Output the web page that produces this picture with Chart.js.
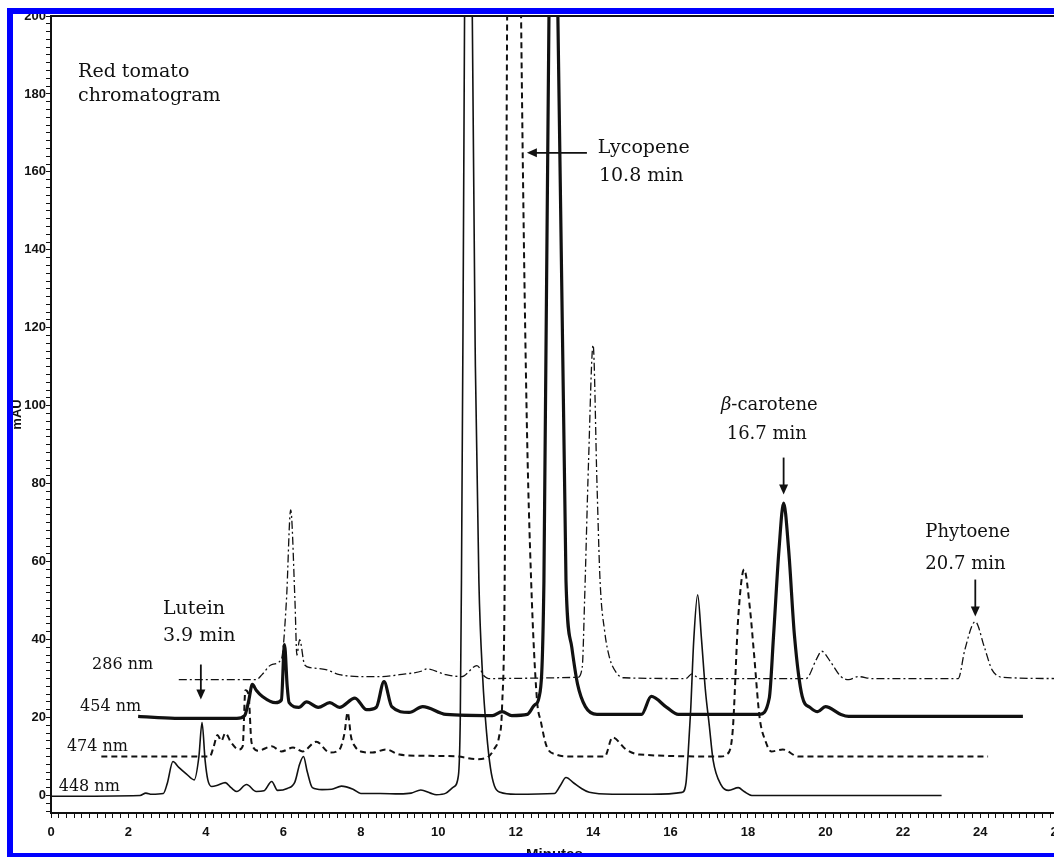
<!DOCTYPE html>
<html>
<head>
<meta charset="utf-8">
<script src="https://cdn.jsdelivr.net/npm/chart.js@4.4.1/dist/chart.umd.min.js"></script>
<style>
  html, body { margin: 0; padding: 0; background: #fff; overflow: hidden; width: 1054px; height: 857px; }
  #chart { position: absolute; left: 0; top: 0; }
  #frame { position: absolute; left: 7px; top: 8px; width: 1100px; height: 839px; border: 6px solid #0000ff; pointer-events: none; }
</style>
</head>
<body>
<canvas id="chart" width="1072" height="872"></canvas>
<div id="frame"></div>
<script>
// retention times (min) and absorbance (mAU)
const t448 = [0, 2.3, 2.45, 2.6, 2.9, 3.0, 3.15, 3.3, 3.5, 3.7, 3.82, 3.9, 3.98, 4.05, 4.15, 4.3, 4.5, 4.65, 4.8, 5.05, 5.3, 5.5, 5.7, 5.85, 6.1, 6.3, 6.42, 6.52, 6.62, 6.75, 7.0, 7.25, 7.5, 7.8, 8.0, 8.5, 9.0, 9.3, 9.55, 9.8, 9.95, 10.2, 10.4, 10.52, 10.57, 10.6, 10.64, 10.68, 10.78, 10.88, 10.96, 11.05, 11.15, 11.25, 11.35, 11.45, 11.6, 12.0, 13.0, 13.15, 13.3, 13.5, 13.7, 13.9, 14.5, 15.5, 16.3, 16.4, 16.45, 16.52, 16.6, 16.7, 16.8, 16.9, 17.0, 17.1, 17.3, 17.5, 17.75, 17.9, 18.1, 23.0];
const v448 = [-0.2, 0, 0.6, 0.3, 0.5, 3, 8.7, 7.2, 5.5, 4, 10, 18.7, 9, 4, 2.3, 2.6, 3.3, 2, 1, 2.8, 1, 1.2, 3.6, 1.3, 1.8, 3.5, 8, 10, 6, 2, 1.5, 1.6, 2.4, 1.6, 0.5, 0.5, 0.4, 0.6, 1.4, 0.6, 0.2, 0.6, 2.2, 5, 20, 55, 120, 200, 430, 200, 110, 55, 30, 16, 7, 2.5, 0.8, 0.3, 0.5, 2.5, 4.6, 3.2, 1.8, 0.8, 0.3, 0.3, 0.8, 3.3, 10, 22, 40, 51.5, 40, 27, 18, 9, 2.8, 1.3, 2, 1, 0, 0];

const t474 = [1.3, 4.1, 4.2, 4.3, 4.4, 4.5, 4.65, 4.85, 4.95, 5.02, 5.1, 5.18, 5.35, 5.7, 5.95, 6.25, 6.5, 6.85, 7.2, 7.45, 7.58, 7.66, 7.75, 7.85, 8.0, 8.3, 8.65, 9.0, 9.5, 10.5, 11.0, 11.3, 11.45, 11.57, 11.65, 11.72, 11.78, 11.96, 12.14, 12.28, 12.4, 12.55, 12.65, 12.8, 13.05, 13.4, 14.3, 14.5, 14.85, 15.2, 17.3, 17.45, 17.6, 17.75, 17.9, 18.05, 18.15, 18.3, 18.45, 18.6, 18.9, 19.3, 24.2];
const v474 = [10, 10, 12.5, 15.5, 14, 16, 13.6, 11.8, 12.6, 27, 26, 13.5, 11.5, 12.6, 11.3, 12.3, 11.3, 13.8, 11, 11.8, 16, 21.3, 15, 12.6, 11.3, 11, 11.8, 10.5, 10.2, 10, 9.3, 10, 12, 15, 23, 60, 200, 400, 200, 100, 55, 24.6, 19, 12.6, 10.5, 10, 10, 14.9, 11.8, 10.5, 10, 10.5, 16, 46, 58, 48, 37, 20, 14, 11.3, 11.8, 10, 10];

const t454 = [2.25, 3.2, 4.8, 5.0, 5.1, 5.2, 5.3, 5.46, 5.8, 5.95, 6.03, 6.1, 6.15, 6.4, 6.6, 6.9, 7.2, 7.45, 7.85, 8.15, 8.4, 8.6, 8.8, 9.25, 9.6, 10.2, 11.4, 11.65, 11.9, 12.3, 12.5, 12.6, 12.73, 12.86, 12.97, 13.09, 13.3, 13.45, 13.6, 13.8, 14.1, 15.25, 15.5, 15.9, 16.2, 18.3, 18.55, 18.66, 18.8, 18.92, 19.05, 19.2, 19.4, 19.6, 19.8, 20.0, 20.4, 20.6, 25.1];
const v454 = [20.3, 19.8, 19.8, 20.5, 24, 28.5, 27, 25.4, 23.8, 24.5, 38.7, 28, 23.8, 22.6, 24, 22.6, 23.8, 22.6, 25, 22, 22.6, 29.2, 22.8, 21.3, 22.8, 20.8, 20.5, 21.5, 20.5, 20.8, 23.3, 25, 55, 200, 380, 200, 55, 38, 28.5, 22.8, 20.8, 20.8, 25.4, 22.6, 20.8, 20.8, 25, 41, 63, 75, 63, 41, 25.4, 22.6, 21.5, 22.8, 20.8, 20.3, 20.3];

const t286 = [3.3, 5.3, 5.45, 5.7, 5.95, 6.08, 6.19, 6.3, 6.35, 6.42, 6.55, 6.7, 7.1, 7.45, 8.1, 8.55, 9.0, 9.6, 9.7, 10.2, 10.6, 11.0, 11.2, 11.3, 13.6, 13.72, 13.78, 13.88, 14.0, 14.1, 14.18, 14.3, 14.42, 14.6, 14.8, 16.4, 16.55, 16.75, 19.5, 19.77, 19.9, 20.15, 20.4, 20.6, 20.85, 21.2, 23.43, 23.6, 23.87, 24.1, 24.3, 24.6, 26];
const v286 = [29.7, 29.7, 31, 33.6, 35, 50, 73.3, 50, 36, 40, 33.5, 32.8, 32.3, 31, 30.5, 30.5, 31, 32, 32.5, 31, 30.5, 33.3, 30.5, 30, 30.3, 33, 50, 85, 115.6, 80, 55, 42, 35.5, 31.5, 30.2, 30, 31.2, 30, 30, 35, 37, 34, 30.5, 29.7, 30.5, 30, 30, 37.4, 44.6, 38.2, 32.3, 30.3, 30];

const yLabelStep = 20;
const yMinorStep = 2;
const xLabelStep = 2;
const xMinorStep = 0.2;

const toPoints = (ts, vs) => ts.map((t, i) => ({ x: t, y: vs[i] }));

// text placed in data units (minutes, mAU)
const notes = [
  { text: 'Red tomato', x: 0.7, y: 185.6, size: 19 },
  { text: 'chromatogram', x: 0.7, y: 179.4, size: 19 },
  { text: 'Lycopene', x: 14.12, y: 166.2, size: 19 },
  { text: '10.8 min', x: 14.15, y: 159, size: 19 },
  { text: 'Lutein', x: 2.89, y: 47.7, size: 19 },
  { text: '3.9 min', x: 2.89, y: 40.8, size: 19 },
  { lead: 'β', text: '-carotene', x: 17.3, y: 100, size: 18 },
  { text: '16.7 min', x: 17.45, y: 92.6, size: 18 },
  { text: 'Phytoene', x: 22.58, y: 67.4, size: 18 },
  { text: '20.7 min', x: 22.58, y: 59.2, size: 18 },
  { text: '286 nm', x: 1.06, y: 33.6, size: 16 },
  { text: '454 nm', x: 0.75, y: 22.8, size: 16 },
  { text: '474 nm', x: 0.41, y: 12.6, size: 16 },
  { text: '448 nm', x: 0.2, y: 2.3, size: 16 }
];
const arrows = [
  { from: [13.84, 164.9], to: [12.29, 164.9] },
  { from: [3.87, 33.6], to: [3.87, 24.6] },
  { from: [18.92, 86.7], to: [18.92, 77.2] },
  { from: [23.87, 55.4], to: [23.87, 45.9] }
];

const annotate = {
  id: 'annotate',
  afterDatasetsDraw(chart) {
    const { ctx, chartArea, scales: { x, y } } = chart;
    ctx.save();
    // top edge of the plot frame
    ctx.strokeStyle = '#111';
    ctx.lineWidth = 2;
    ctx.beginPath();
    ctx.moveTo(chartArea.left, chartArea.top);
    ctx.lineTo(chartArea.right + 20, chartArea.top);
    ctx.stroke();

    ctx.fillStyle = '#111';
    ctx.textBaseline = 'middle';
    ctx.textAlign = 'left';
    notes.forEach(n => {
      let px = x.getPixelForValue(n.x);
      const py = y.getPixelForValue(n.y);
      if (n.lead) {
        ctx.font = 'italic ' + n.size + 'px "DejaVu Serif"';
        ctx.fillText(n.lead, px, py);
        px += ctx.measureText(n.lead).width;
      }
      ctx.font = n.size + 'px "DejaVu Serif"';
      ctx.fillText(n.text, px, py);
    });

    ctx.lineWidth = 1.8;
    arrows.forEach(a => {
      const x1 = x.getPixelForValue(a.from[0]), y1 = y.getPixelForValue(a.from[1]);
      const x2 = x.getPixelForValue(a.to[0]), y2 = y.getPixelForValue(a.to[1]);
      const ang = Math.atan2(y2 - y1, x2 - x1);
      const head = 10, half = 4.5;
      ctx.beginPath();
      ctx.moveTo(x1, y1);
      ctx.lineTo(x2 - head * 0.6 * Math.cos(ang), y2 - head * 0.6 * Math.sin(ang));
      ctx.stroke();
      ctx.beginPath();
      ctx.moveTo(x2, y2);
      ctx.lineTo(x2 - head * Math.cos(ang) - half * Math.sin(ang), y2 - head * Math.sin(ang) + half * Math.cos(ang));
      ctx.lineTo(x2 - head * Math.cos(ang) + half * Math.sin(ang), y2 - head * Math.sin(ang) - half * Math.cos(ang));
      ctx.closePath();
      ctx.fill();
    });
    ctx.restore();
  }
};

const ctx = document.getElementById('chart').getContext('2d');
new Chart(ctx, {
  type: 'line',
  data: {
    datasets: [
      { label: '286 nm', data: toPoints(t286, v286), borderColor: '#111', borderWidth: 1.3, borderDash: [8, 3, 2, 3] },
      { label: '474 nm', data: toPoints(t474, v474), borderColor: '#111', borderWidth: 2, borderDash: [6, 4] },
      { label: '448 nm', data: toPoints(t448, v448), borderColor: '#111', borderWidth: 1.6 },
      { label: '454 nm', data: toPoints(t454, v454), borderColor: '#111', borderWidth: 3.2 }
    ]
  },
  options: {
    responsive: false,
    animation: false,
    layout: { padding: { top: 16, right: 12, left: 0, bottom: 0 } },
    elements: {
      point: { radius: 0 },
      line: { cubicInterpolationMode: 'monotone', fill: false }
    },
    plugins: {
      legend: { display: false },
      tooltip: { enabled: false }
    },
    scales: {
      x: {
        type: 'linear',
        min: 0,
        max: 26,
        afterBuildTicks: scale => {
          const n = Math.round(26 / xMinorStep);
          scale.ticks = Array.from({ length: n + 1 }, (_, i) => ({ value: i * xMinorStep }));
        },
        afterFit: scale => { scale.height = 59; },
        grid: { drawOnChartArea: false, color: '#111', tickLength: 5, lineWidth: 1 },
        border: { color: '#111', width: 2 },
        ticks: {
          autoSkip: false,
          maxRotation: 0,
          padding: 7,
          color: '#111',
          font: { family: 'Liberation Sans', size: 13, weight: 'bold' },
          callback: value => {
            const r = Math.round(value);
            return Math.abs(value - r) < 1e-6 && r % xLabelStep === 0 ? String(r) : '';
          }
        },
        title: {
          display: true,
          text: 'Minutes',
          color: '#111',
          font: { family: 'Liberation Sans', size: 15, weight: 'bold' },
          padding: { top: 0, bottom: 8 }
        }
      },
      y: {
        min: -4.5,
        max: 200,
        afterBuildTicks: scale => {
          const ticks = [];
          for (let v = -4; v <= 200; v += yMinorStep) ticks.push({ value: v });
          scale.ticks = ticks;
        },
        afterFit: scale => { scale.width = 51; },
        grid: { drawOnChartArea: false, color: '#111', tickLength: 5, lineWidth: 1 },
        border: { color: '#111', width: 2 },
        ticks: {
          autoSkip: false,
          padding: 0,
          color: '#111',
          font: { family: 'Liberation Sans', size: 13, weight: 'bold' },
          callback: value => (value % yLabelStep === 0 ? String(value) : '')
        },
        title: {
          display: true,
          text: 'mAU',
          color: '#111',
          font: { family: 'Liberation Sans', size: 13, weight: 'bold' },
          padding: { top: 10, bottom: 0 }
        }
      }
    }
  },
  plugins: [annotate]
});
</script>
</body>
</html>
